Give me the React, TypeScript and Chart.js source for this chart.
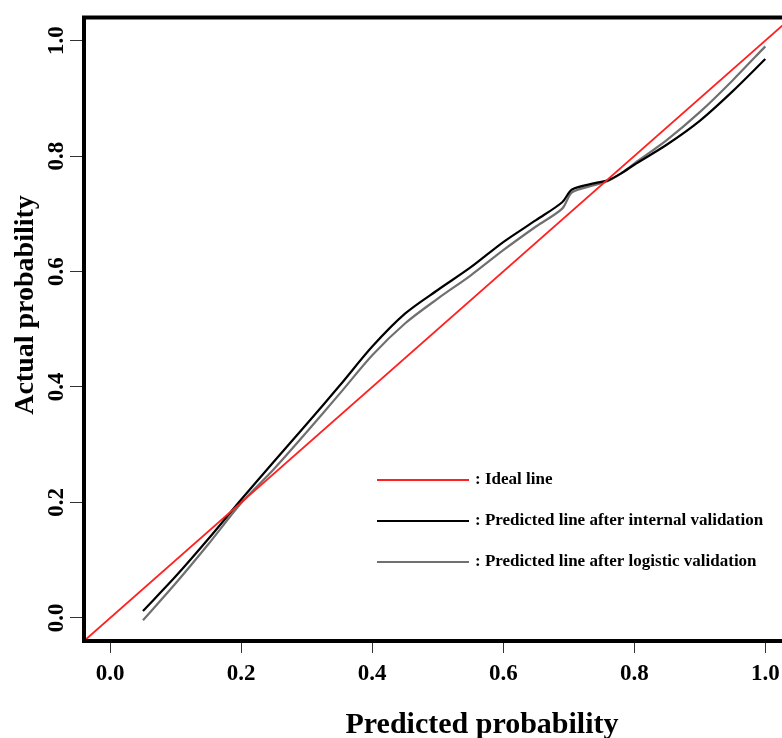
import React, { useEffect, useRef } from 'react';
import { Chart, registerables } from 'chart.js';

Chart.register(...registerables);

const xTicks = [0, 0.2, 0.4, 0.6, 0.8, 1.0];
const yTicks = [0, 0.2, 0.4, 0.6, 0.8, 1.0];

const idealX = [-0.04, 1.04];
const idealY = [-0.04, 1.04];

const predX = [0.05, 0.1, 0.15, 0.2, 0.25, 0.3, 0.35, 0.4, 0.45, 0.5, 0.55, 0.6, 0.65, 0.69, 0.705, 0.74, 0.76, 0.78, 0.8, 0.85, 0.9, 0.95, 1.0];
const internalY = [0.012, 0.072, 0.137, 0.205, 0.271, 0.336, 0.402, 0.47, 0.527, 0.568, 0.607, 0.651, 0.689, 0.72, 0.742, 0.753, 0.758, 0.77, 0.785, 0.82, 0.861, 0.912, 0.968];
const logisticY = [-0.004, 0.06, 0.128, 0.199, 0.258, 0.322, 0.388, 0.455, 0.51, 0.553, 0.593, 0.637, 0.678, 0.709, 0.737, 0.75, 0.757, 0.77, 0.787, 0.828, 0.876, 0.931, 0.99];

const seriesLabels = ['Ideal line', 'Predicted line after internal validation', 'Predicted line after logistic validation'];
const seriesColors = ['#ff2020', '#000000', '#707070'];
const xTitle = 'Predicted probability';
const yTitle = 'Actual probability';

const FONT = '"Liberation Serif", "Times New Roman", Times, serif';

const decor = {
  id: 'decor',
  afterDraw(chart: any) {
    const { ctx, chartArea: a, scales } = chart;
    ctx.save();
    // frame
    ctx.strokeStyle = '#000';
    ctx.lineWidth = 4;
    ctx.strokeRect(a.left, a.top, a.right - a.left, a.bottom - a.top);
    ctx.fillStyle = '#000';
    // tick labels
    ctx.font = `bold 23px ${FONT}`;
    ctx.textAlign = 'center';
    ctx.textBaseline = 'alphabetic';
    xTicks.forEach((v) => {
      ctx.fillText(v.toFixed(1), scales.x.getPixelForValue(v), a.bottom + 39);
    });
    yTicks.forEach((v) => {
      const y = scales.y.getPixelForValue(v);
      ctx.save();
      ctx.translate(a.left - 21, y);
      ctx.rotate(-Math.PI / 2);
      ctx.fillText(v.toFixed(1), 0, 0);
      ctx.restore();
    });
    // axis titles
    ctx.font = `bold 30px ${FONT}`;
    ctx.fillText(xTitle, 482, 733);
    ctx.save();
    ctx.font = `bold 28px ${FONT}`;
    ctx.translate(33, 305);
    ctx.rotate(-Math.PI / 2);
    ctx.fillText(yTitle, 0, 0);
    ctx.restore();
    // legend
    const ly = [480, 521, 562];
    ctx.font = `bold 17px ${FONT}`;
    ctx.textAlign = 'left';
    ctx.textBaseline = 'middle';
    seriesLabels.forEach((lab, i) => {
      ctx.strokeStyle = seriesColors[i];
      ctx.lineWidth = 2.2;
      ctx.beginPath();
      ctx.moveTo(377, ly[i]);
      ctx.lineTo(469, ly[i]);
      ctx.stroke();
      ctx.fillStyle = '#000';
      ctx.fillText(': ' + lab, 475, ly[i]);
    });
    ctx.restore();
  },
};

export default function App() {
  const ref = useRef<HTMLCanvasElement | null>(null);
  useEffect(() => {
    if (!ref.current) return;
    const tickGrid = (len: number) => ({
      display: true,
      drawOnChartArea: false,
      drawTicks: true,
      tickLength: len,
      color: '#333',
      lineWidth: 1,
    });
    const chart = new Chart(ref.current, {
      type: 'line',
      data: {
        datasets: [
          {
            label: seriesLabels[0],
            data: idealX.map((x, i) => ({ x, y: idealY[i] })),
            borderColor: seriesColors[0],
            borderWidth: 1.8,
            pointRadius: 0,
            tension: 0,
          },
          {
            label: seriesLabels[1],
            data: predX.map((x, i) => ({ x, y: internalY[i] })),
            borderColor: seriesColors[1],
            borderWidth: 2.2,
            pointRadius: 0,
            tension: 0.3,
          },
          {
            label: seriesLabels[2],
            data: predX.map((x, i) => ({ x, y: logisticY[i] })),
            borderColor: seriesColors[2],
            borderWidth: 2.2,
            pointRadius: 0,
            tension: 0.3,
          },
        ],
      },
      options: {
        animation: false,
        responsive: false,
        layout: { padding: { left: 0, top: 17.5, right: 28.5, bottom: 0 } },
        plugins: { legend: { display: false }, tooltip: { enabled: false } },
        scales: {
          x: {
            type: 'linear',
            min: -0.04,
            max: 1.04,
            afterBuildTicks: (s: any) => {
              s.ticks = xTicks.map((v) => ({ value: v }));
            },
            afterFit: (s: any) => {
              s.height = 97;
            },
            ticks: { display: false },
            grid: tickGrid(12),
            border: { display: false },
          },
          y: {
            type: 'linear',
            min: -0.04,
            max: 1.04,
            afterBuildTicks: (s: any) => {
              s.ticks = yTicks.map((v) => ({ value: v }));
            },
            afterFit: (s: any) => {
              s.width = 84;
            },
            ticks: { display: false },
            grid: tickGrid(14),
            border: { display: false },
          },
        },
      } as any,
      plugins: [decor],
    });
    return () => chart.destroy();
  }, []);
  return (
    <div style={{ position: 'fixed', left: 0, top: 0, width: 782, height: 738, overflow: 'hidden', background: '#fff' }}>
      <canvas ref={ref} width={820} height={738} style={{ display: 'block' }} />
    </div>
  );
}
